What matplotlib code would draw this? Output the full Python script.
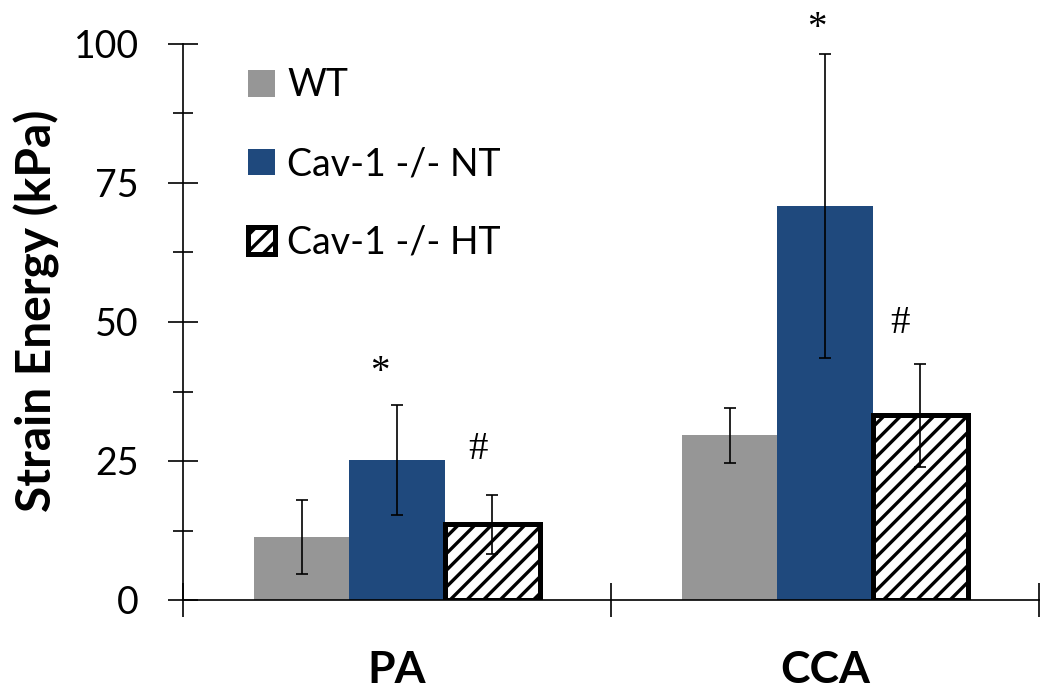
import numpy as np
import matplotlib
matplotlib.use('Agg')
import matplotlib.pyplot as plt

# data
categories = ['PA', 'CCA']
series = ['WT', 'Cav-1 -/- NT', 'Cav-1 -/- HT']
wt_mean = [11.3, 29.6]
wt_err = [6.7, 5.0]
nt_mean = [25.2, 70.9]
nt_err = [9.9, 27.3]
ht_mean = [13.6, 33.2]
ht_err = [5.3, 9.3]

# significance marks: text, x (category units), y (kPa)
ann_text = ['*', '#', '*', '#']
ann_x = [-0.04, 0.19, 0.98, 1.175]
ann_y = [41.0, 27.0, 102.8, 49.8]

plt.rcParams['font.family'] = ['Lato', 'DejaVu Sans']
plt.rcParams['hatch.linewidth'] = 2.4

fig = plt.figure(figsize=(10.5, 6.98), dpi=100)
ax = fig.add_axes([183/1050, 1-600/698, 856/1050, 556/698])

x = np.arange(len(categories))
w = 0.222
means = [wt_mean, nt_mean, ht_mean]
errs = [wt_err, nt_err, ht_err]
styles = [dict(color='#969696'),
          dict(color='#1F497D'),
          dict(facecolor='white', edgecolor='black', hatch='//', linewidth=3.6)]

for i in range(3):
    xi = x + (i-1)*w
    ax.bar(xi, means[i], w, label=series[i], zorder=2, **styles[i])
    ax.errorbar(xi, means[i], yerr=errs[i], fmt='none', ecolor='black',
                elinewidth=1.2, capsize=4, capthick=1.2, zorder=4)

for t, tx, ty in zip(ann_text, ann_x, ann_y):
    ax.text(tx, ty, t, ha='center', va='center', fontsize=28,
            family='Liberation Serif', clip_on=False)

ax.set_xlim(-0.5, 1.5)
ax.set_ylim(0, 100)
ax.set_yticks([0, 25, 50, 75, 100])
ax.set_yticks([12.5, 37.5, 62.5, 87.5], minor=True)
ax.tick_params(axis='y', which='major', direction='inout', length=21.5, width=1.2,
               labelsize=27, pad=21)
ax.tick_params(axis='y', which='minor', direction='inout', length=15, width=1.2)

ax.set_xticks([-0.5, 0.5, 1.5])
ax.set_xticklabels([])
ax.set_xticks(x, minor=True)
ax.set_xticklabels(categories, minor=True, fontsize=32, fontweight='bold')
ax.tick_params(axis='x', which='major', direction='inout', length=24, width=1.2)
ax.tick_params(axis='x', which='minor', length=0, pad=36)

for s in ['top', 'right']:
    ax.spines[s].set_visible(False)
for s in ['left', 'bottom']:
    ax.spines[s].set_linewidth(1.2)

ax.set_ylabel('Strain Energy (kPa)', fontsize=34.5, fontweight='bold', va='center')
ax.yaxis.set_label_coords(-0.171, 0.52)

ax.legend(loc='upper left', bbox_to_anchor=(0.076, 0.958), frameon=False,
          fontsize=27, handlelength=0.72, handleheight=0.72, handletextpad=0.32,
          labelspacing=1.14, borderpad=0, borderaxespad=0)

fig.savefig('out.png', dpi=100)
